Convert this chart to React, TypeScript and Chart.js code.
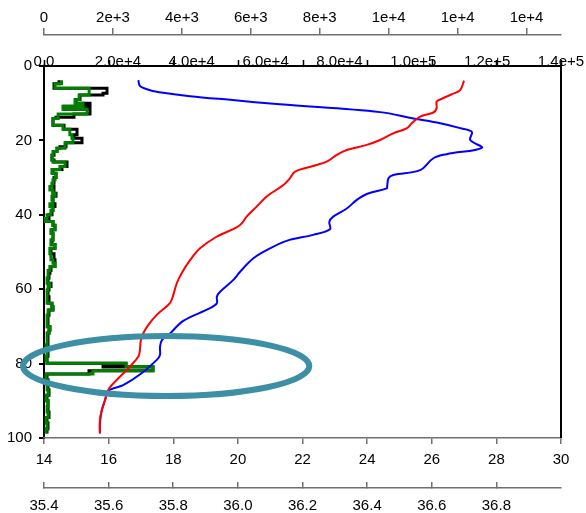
import React, { useEffect, useRef } from 'react';
import { Chart, registerables } from 'chart.js';

Chart.register(...registerables);

const FONT = "'Liberation Sans', Arial, Helvetica, sans-serif";

// Temperature profile (°C) – bottom axis 14..30
const tempDepth = [3.9, 6.5, 7.6, 9.0, 9.6, 11.4, 12.5, 13.6, 15.4, 16.8, 18.1, 19.9, 21.2, 22.6, 23.9, 25.7, 26.9, 28.4, 30.2, 32.0, 33.8, 35.1, 37.8, 40.5, 42.3, 43.4, 45.9, 49.0, 52.2, 55.7, 58.4, 62.9, 64.2, 66.9, 69.6, 71.9, 74.1, 76.3, 78.1, 80.8, 82.6, 85.3, 87.1, 89.8, 92.5, 95.2, 98.7];
const tempValue = [27.0, 26.88, 26.62, 26.26, 26.15, 26.15, 26.05, 25.64, 25.38, 25.22, 24.81, 24.4, 23.99, 23.37, 23.06, 22.75, 22.33, 21.77, 21.61, 21.41, 21.1, 20.89, 20.58, 20.27, 20.12, 19.96, 19.34, 18.83, 18.52, 18.26, 18.11, 17.95, 17.85, 17.49, 17.23, 17.07, 16.99, 16.97, 16.92, 16.66, 16.46, 16.15, 15.99, 15.89, 15.79, 15.73, 15.73];

// Salinity profile – bottom axis 35.4..37.0
const salDepth = [3.8, 5.4, 6.5, 7.2, 8.1, 9.1, 10.3, 12.4, 14.1, 15.4, 16.7, 17.7, 19.9, 22.0, 23.7, 24.8, 28.0, 29.3, 30.2, 32.4, 32.9, 34.4, 36.0, 38.3, 40.5, 41.9, 43.9, 45.4, 47.0, 49.5, 51.7, 55.3, 57.5, 60.7, 62.0, 63.8, 65.1, 68.5, 71.9, 73.7, 75.5, 77.7, 79.0, 82.6, 85.8, 87.3, 89.8, 92.5, 96.1, 98.8];
const salValue = [35.692, 35.697, 35.728, 35.769, 35.852, 35.976, 36.13, 36.44, 36.543, 36.626, 36.688, 36.724, 36.719, 36.755, 36.646, 36.605, 36.564, 36.481, 36.466, 36.462, 36.461, 36.399, 36.368, 36.337, 36.295, 36.283, 36.285, 36.233, 36.151, 36.089, 36.048, 36.007, 35.986, 35.945, 35.935, 35.935, 35.914, 35.831, 35.79, 35.765, 35.759, 35.759, 35.749, 35.702, 35.645, 35.599, 35.589, 35.579, 35.573, 35.573];

// Green step profile – top axis 0..1.5e4
const greenDepth = [3.8, 4.8, 6.0, 7.8, 9.0, 10.0, 10.8, 11.6, 12.9, 14.1, 15.9, 17.0, 18.5, 19.4, 20.6, 22.1, 23.0, 24.0, 25.3, 25.8, 27.0, 27.8, 28.8, 30.0, 30.6, 31.5, 32.4, 33.3, 34.2, 35.0, 36.0, 37.0, 37.8, 38.8, 40.0, 41.0, 41.8, 42.8, 44.0, 45.0, 46.8, 48.0, 49.0, 50.5, 52.1, 53.0, 53.9, 55.0, 57.0, 58.4, 59.3, 60.2, 63.8, 64.7, 65.6, 67.0, 70.1, 71.0, 71.8, 75.0, 76.5, 78.0, 79.0, 79.9, 80.8, 81.9, 82.8, 84.4, 85.5, 87.0, 88.5, 90.0, 91.5, 93.0, 94.5, 96.0, 97.5, 98.8];
const greenValue = [510, 320, 1310, 1020, 900, 1130, 550, 1250, 410, 260, 550, 750, 810, 840, 610, 380, 260, 230, 260, 610, 460, 230, 350, 320, 260, 230, 170, 260, 320, 230, 260, 170, 260, 200, 90, 30, 260, 320, 200, 260, 200, 320, 170, 200, 260, 320, 170, 120, 90, 170, 120, 90, 230, 260, 120, 90, 170, 150, 90, 60, 90, 60, 90, 2380, 3160, 1420, 60, 120, 90, 120, 60, 120, 90, 120, 60, 90, 60, 60];

// Black step profile – top axis 0..1.4e5
const blackDepth = [3.8, 4.8, 6.0, 7.3, 7.8, 9.0, 10.0, 10.8, 11.6, 12.9, 13.8, 14.1, 15.9, 17.0, 18.5, 19.4, 20.6, 21.7, 22.1, 23.0, 24.0, 25.3, 25.8, 27.0, 27.8, 28.8, 30.0, 31.5, 32.4, 33.3, 34.2, 35.0, 37.0, 37.8, 38.8, 40.0, 41.0, 41.8, 42.8, 44.0, 45.0, 46.8, 48.0, 49.0, 50.5, 52.1, 53.9, 55.0, 55.7, 57.0, 58.4, 59.3, 60.2, 62.0, 63.8, 64.7, 65.6, 67.0, 70.1, 71.0, 71.8, 75.0, 76.5, 78.0, 79.9, 80.7, 80.9, 81.9, 82.8, 84.4, 87.0, 88.5, 90.0, 93.0, 94.5, 96.0, 97.5, 98.8];
const blackValue = [4060, 2710, 17060, 15980, 9750, 8670, 12460, 5420, 12460, 8120, 3250, 2440, 5420, 8940, 8120, 10290, 5960, 4330, 3520, 2710, 2170, 2710, 6230, 4870, 2440, 3250, 2710, 2440, 2710, 2440, 3250, 2440, 2980, 2440, 2170, 1350, 540, 2440, 2980, 2170, 2440, 2170, 2980, 1900, 2710, 2980, 1900, 1620, 1350, 1080, 1900, 1350, 1080, 1350, 2170, 2440, 1350, 1080, 1620, 1350, 1080, 810, 1080, 810, 22210, 15980, 29520, 12190, 810, 1080, 1350, 810, 1080, 1350, 810, 1080, 810, 810];

// Tick values
const depthTicks = [0, 20, 40, 60, 80, 100];
const topTicksA = [0, 2000, 4000, 6000, 8000, 10000, 12000, 14000];
const topTicksB = [0, 20000, 40000, 60000, 80000, 100000, 120000, 140000];
const tempTicks = [14, 16, 18, 20, 22, 24, 26, 28, 30];
const salTicks = [35.4, 35.6, 35.8, 36.0, 36.2, 36.4, 36.6, 36.8];

// Highlight ellipse (temperature / depth units)
const ellipseT = 17.78;
const ellipseD = 80.65;
const ellipseRT = 4.43;
const ellipseRD = 8.06;

const GRAY = '#707070';

const toPts = (depth: number[], vals: number[]) => depth.map((d, i) => ({ x: vals[i], y: d }));
const setTicks = (list: number[]) => (axis: any) => {
  axis.ticks = list.map((v) => ({ value: v }));
};
const fitH = (h: number) => (axis: any) => {
  axis.height = h;
  axis.paddingLeft = 0;
  axis.paddingRight = 0;
};

const overlay = {
  id: 'overlay',
  afterDraw(chart: any) {
    const { ctx, chartArea } = chart;
    const xt = chart.scales.xT;
    const ys = chart.scales.y;
    ctx.save();
    // right frame
    ctx.strokeStyle = '#000';
    ctx.lineWidth = 2;
    ctx.beginPath();
    ctx.moveTo(chartArea.right, chartArea.top - 1);
    ctx.lineTo(chartArea.right, chartArea.bottom);
    ctx.stroke();
    // tick marks on upper frame
    ctx.lineWidth = 1.5;
    ctx.beginPath();
    for (const v of tempTicks) {
      const px = Math.round(xt.getPixelForValue(v)) + 0.5;
      ctx.moveTo(px, chartArea.top);
      ctx.lineTo(px, chartArea.top - 6);
    }
    ctx.stroke();
    // ellipse
    const cx = xt.getPixelForValue(ellipseT);
    const cy = ys.getPixelForValue(ellipseD);
    const rx = Math.abs(xt.getPixelForValue(ellipseT + ellipseRT) - cx);
    const ry = Math.abs(ys.getPixelForValue(ellipseD + ellipseRD) - cy);
    ctx.strokeStyle = '#3d8fa5';
    ctx.lineWidth = 6;
    ctx.beginPath();
    ctx.ellipse(cx, cy, rx, ry, 0, 0, Math.PI * 2);
    ctx.stroke();
    ctx.restore();
  },
};

export default function App() {
  const ref = useRef<HTMLCanvasElement>(null);
  useEffect(() => {
    document.body.style.margin = '0';
    document.body.style.overflow = 'hidden';
    const font = { family: FONT, size: 15 };
    const chart = new Chart(ref.current as HTMLCanvasElement, {
      type: 'scatter',
      data: {
        datasets: [
          { data: toPts(tempDepth, tempValue), xAxisID: 'xT', yAxisID: 'y', borderColor: '#ff0000', borderWidth: 2, showLine: true, tension: 0.35, pointRadius: 0 },
          { data: toPts(salDepth, salValue), xAxisID: 'xS', yAxisID: 'y', borderColor: '#0000ff', borderWidth: 2, showLine: true, tension: 0.35, pointRadius: 0 },
          { data: toPts(greenDepth, greenValue), xAxisID: 'xA', yAxisID: 'y', borderColor: '#008000', borderWidth: 3, showLine: true, stepped: 'after', pointRadius: 0 },
          { data: toPts(blackDepth, blackValue), xAxisID: 'xB', yAxisID: 'y', borderColor: '#000000', borderWidth: 3, showLine: true, stepped: 'after', pointRadius: 0 },
        ] as any,
      },
      options: {
        animation: false,
        responsive: false,
        events: [],
        layout: { padding: { left: 0, right: 25, top: 0, bottom: 0 } },
        plugins: { legend: { display: false }, tooltip: { enabled: false } },
        scales: {
          y: {
            type: 'linear', axis: 'y', position: 'left', reverse: true, min: 0, max: 100,
            afterBuildTicks: setTicks(depthTicks),
            afterFit: (a: any) => { a.width = 44; a.paddingTop = 0; a.paddingBottom = 0; },
            ticks: { font, color: '#000', padding: 7 },
            grid: { drawOnChartArea: false, color: '#000', lineWidth: 2, tickLength: 5 },
            border: { color: '#000', width: 2 },
          },
          xA: {
            type: 'linear', axis: 'x', position: 'top', weight: 1, min: 0, max: 15000,
            afterBuildTicks: setTicks(topTicksA),
            afterFit: fitH(35),
            ticks: { font, color: '#000', padding: 1.5, maxRotation: 0, autoSkip: false,
              callback: (v: any) => (v === 0 ? '0' : Number(v).toExponential(0)) },
            grid: { drawOnChartArea: false, color: GRAY, lineWidth: 1.5, tickLength: 7 },
            border: { color: GRAY, width: 1.5 },
          },
          xB: {
            type: 'linear', axis: 'x', position: 'top', weight: 0, min: 0, max: 140000,
            afterBuildTicks: setTicks(topTicksB),
            afterFit: fitH(31),
            ticks: { font, color: '#000', padding: -5, maxRotation: 0, autoSkip: false,
              callback: (v: any) => (v === 0 ? '0.0' : Number(v).toExponential(1)) },
            grid: { drawOnChartArea: false, drawTicks: false, color: '#000', lineWidth: 1.5 },
            border: { color: '#000', width: 2 },
          },
          xT: {
            type: 'linear', axis: 'x', position: 'bottom', weight: 0, min: 14, max: 30,
            afterBuildTicks: setTicks(tempTicks),
            afterFit: fitH(50),
            ticks: { font, color: '#000', padding: 7, maxRotation: 0, autoSkip: false,
              callback: (v: any) => String(v) },
            grid: { drawOnChartArea: false, color: GRAY, lineWidth: 1.5, tickLength: 6 },
            border: { color: GRAY, width: 1.5 },
          },
          xS: {
            type: 'linear', axis: 'x', position: 'bottom', weight: 1, min: 35.4, max: 37.0,
            afterBuildTicks: setTicks(salTicks),
            afterFit: fitH(25),
            ticks: { font, color: '#000', padding: 15, maxRotation: 0, autoSkip: false,
              callback: (v: any) => Number(v).toFixed(1) },
            grid: { drawOnChartArea: false, color: GRAY, lineWidth: 1.5, tickLength: -6 },
            border: { color: GRAY, width: 1.5 },
          },
        } as any,
      },
      plugins: [overlay],
    });
    return () => chart.destroy();
  }, []);
  return (
    <div style={{ width: 586, height: 513, overflow: 'hidden' }}>
      <canvas ref={ref} width={586} height={513} style={{ display: 'block' }} />
    </div>
  );
}
